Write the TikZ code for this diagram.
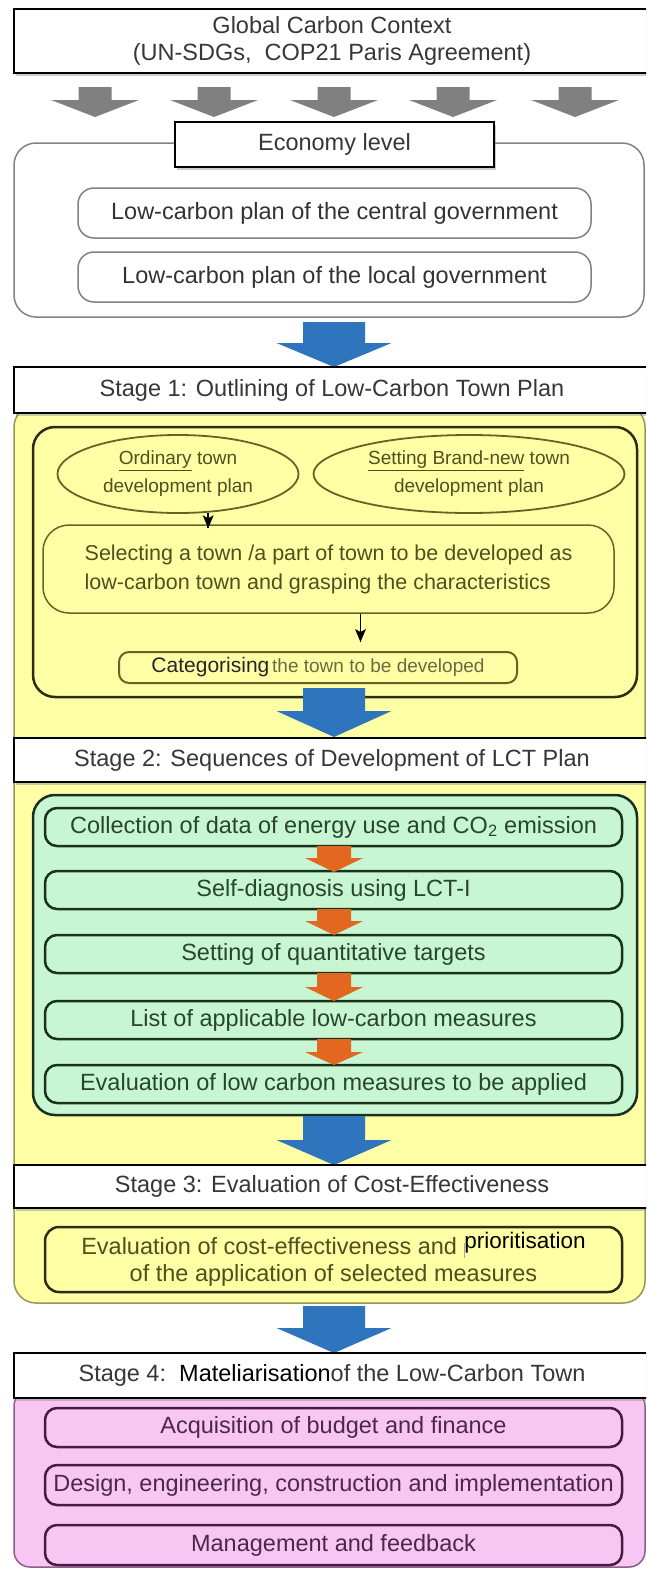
\documentclass[tikz,border=0pt]{standalone}
\usepackage{fontspec}
\setmainfont{Liberation Sans}
\usetikzlibrary{shapes.geometric,shadows,calc}

\definecolor{paleyellow}{RGB}{255,255,165}
\definecolor{palegreen}{RGB}{200,245,210}
\definecolor{palepink}{RGB}{248,198,243}
\definecolor{flowblue}{RGB}{46,117,190}
\definecolor{floworange}{RGB}{226,104,32}
\definecolor{flowgrey}{RGB}{128,128,128}
\definecolor{olivetext}{RGB}{80,80,30}
\definecolor{oliveline}{RGB}{100,100,40}
\definecolor{olivedark}{RGB}{45,45,20}
\definecolor{yellowedge}{RGB}{150,150,85}
\definecolor{greentext}{RGB}{40,70,45}
\definecolor{greenline}{RGB}{25,50,30}
\definecolor{pinktext}{RGB}{75,40,75}
\definecolor{pinkline}{RGB}{70,25,70}
\definecolor{pinkedge}{RGB}{140,95,140}
\definecolor{headtext}{RGB}{55,55,55}
\definecolor{econline}{RGB}{130,130,130}

\newcommand\fs[2]{\fontsize{#1}{#2}\selectfont}

% downward block arrow: x, y top, y head start, y tip, shaft half width, head half width, fill
\newcommand\blockdown[7]{%
  \fill[#7] ({#1-#5},#2) -- ({#1+#5},#2) -- ({#1+#5},#3) -- ({#1+#6},#3)
    -- (#1,#4) -- ({#1-#6},#3) -- ({#1-#5},#3) -- cycle;}

% small downward connector ending in a filled head at the named tip
\newcommand\smalldown[2]{%
  \draw[line width=1.5pt] (#1) -- (#2);
  \fill (#2) -- ++(-5.5,-13) -- ++(5.5,3) -- ++(5.5,-3) -- cycle;}

\tikzset{
  header/.style={draw=black, line width=2.2pt, fill=white, minimum width=636,
    minimum height=#1, inner sep=0pt, font=\fs{23.5}{27}, text=headtext,
    drop shadow={shadow xshift=1.5pt, shadow yshift=-2.5pt, opacity=0.4}},
  plainbox/.style={draw=econline, line width=1.5pt, fill=white, rounded corners=16,
    minimum width=513, minimum height=50, inner sep=0pt, font=\fs{23.5}{27}, text=black!80},
  greenitem/.style={draw=greenline, line width=2.5pt, fill=palegreen, rounded corners=12,
    minimum width=577, minimum height=38, inner sep=0pt, font=\fs{23.5}{27}, text=greentext},
  pinkitem/.style={draw=pinkline, line width=2.5pt, fill=palepink, rounded corners=12,
    minimum width=577, minimum height=39, inner sep=0pt, font=\fs{23.5}{27}, text=pinktext},
  oval/.style={ellipse, draw=oliveline, line width=1.8pt, fill=paleyellow, inner sep=0pt,
    align=center, font=\fs{19}{28}, text=olivetext},
}

\begin{document}
\begin{tikzpicture}[x=1pt, y=-1pt]
\clip (0,0) rectangle (646,1569);
\fill[white] (0,0) rectangle (646,1569);

% global context
\node[header=64, align=center] (glob) at (332,41)
  {Global Carbon Context\\(UN-SDGs,\ \ COP21 Paris Agreement)};
\foreach \ax in {95,214,334,453,575}
  {\blockdown{\ax}{87}{100}{117}{16.5}{44}{flowgrey}}

% economy level
\node[draw=econline, line width=1.5pt, rounded corners=22, minimum width=630,
  minimum height=174, inner sep=0pt] (econ) at (329,230) {};
\node[draw=black, line width=2.2pt, fill=white, minimum width=319, minimum height=45,
  inner sep=0pt, font=\fs{23.5}{27}, text=headtext,
  drop shadow={shadow xshift=1.5pt, shadow yshift=-2.5pt, opacity=0.4}]
  (econlbl) at (334.5,144.5) {Economy level};
\node[plainbox] (cgov) at (334.5,213) {Low-carbon plan of the central government};
\node[plainbox] (lgov) at (334.5,277) {Low-carbon plan of the local government};

\blockdown{334}{322}{343}{367}{31}{57.5}{flowblue}

% coloured zones behind the stages
\node[draw=yellowedge, line width=1.5pt, fill=paleyellow, rounded corners=22,
  minimum width=631, minimum height=898, inner sep=0pt] (yzone) at (329.5,854) {};
\node[draw=pinkedge, line width=1.5pt, fill=palepink, rounded corners=16,
  minimum width=631, minimum height=177, inner sep=0pt] (pzone) at (329.5,1478.5) {};

% stage 1
\node[header=46] (s1) at (332,390) {Stage 1: Outlining of Low-Carbon Town Plan};
\node[draw=olivedark, line width=2.5pt, fill=paleyellow, rounded corners=22,
  minimum width=604, minimum height=270, inner sep=0pt] (s1box) at (335,562) {};
\node[oval, minimum width=241, minimum height=78] (ord) at (178,474)
  {\underline{Ordinary} town\\development plan};
\node[oval, minimum width=311, minimum height=78] (new) at (469,474)
  {\underline{Setting Brand-new} town\\development plan};
\node[draw=oliveline, line width=1.5pt, fill=paleyellow, rounded corners=26,
  minimum width=571, minimum height=88, inner sep=0pt, align=left,
  font=\fs{21.5}{29}, text=olivetext] (sel) at (328.5,569)
  {Selecting a town /a part of town to be developed as\\low-carbon town and grasping the characteristics};
\node[draw=oliveline, line width=2pt, fill=paleyellow, rounded corners=10,
  minimum width=398, minimum height=31, inner sep=0pt] (cat) at (318,667.5)
  {{\fs{21}{24}\color{black!85}Categorising} {\fs{19}{24}\color{olivetext!85}the town to be developed}};
\coordinate (tipA) at ([yshift=-4pt]ord.-52 |- sel.north);
\coordinate (tipB) at ([xshift=32pt,yshift=9pt]sel.south |- cat.north);
\smalldown{ord.-52}{tipA}
\smalldown{[xshift=32pt]sel.south}{tipB}

\blockdown{334}{688}{711}{737}{31}{57.5}{flowblue}

% stage 2
\node[header=44] (s2) at (332,760) {Stage 2: Sequences of Development of LCT Plan};
\node[draw=greenline, line width=2.5pt, fill=palegreen, rounded corners=22,
  minimum width=604, minimum height=320, inner sep=0pt] (s2box) at (335,955) {};
\node[greenitem] (g1) at (333.5,827) {Collection of data of energy use and CO\textsubscript{2} emission};
\node[greenitem] (g2) at (333.5,890) {Self-diagnosis using LCT-I};
\node[greenitem] (g3) at (333.5,954) {Setting of quantitative targets};
\node[greenitem] (g4) at (333.5,1020) {List of applicable low-carbon measures};
\node[greenitem] (g5) at (333.5,1084) {Evaluation of low carbon measures to be applied};
\blockdown{334}{846}{858}{872}{17}{29}{floworange}
\blockdown{334}{909}{921}{935}{17}{29}{floworange}
\blockdown{334}{973}{987}{1001}{17}{29}{floworange}
\blockdown{334}{1039}{1052}{1065}{17}{29}{floworange}

\blockdown{334}{1116}{1140}{1165}{31}{57.5}{flowblue}

% stage 3
\node[header=43] (s3) at (332,1186.5) {Stage 3: Evaluation of Cost-Effectiveness};
\node[draw=olivedark, line width=2.5pt, fill=paleyellow, rounded corners=14,
  minimum width=577, minimum height=65, inner sep=0pt, align=center,
  font=\fs{23.5}{27}, text=olivetext] (s3box) at (333.5,1259.5)
  {Evaluation of cost-effectiveness and {\color{black!35}\rule[-3pt]{0.8pt}{15pt}}\raisebox{6pt}{\color{black}\fs{22.5}{24}prioritisation}\\of the application of selected measures};

\blockdown{334}{1306}{1328}{1353}{31}{57.5}{flowblue}

% stage 4
\node[header=45] (s4) at (332,1375.5)
  {Stage 4:\ \ {\color{black}Mateliarisation}of the Low-Carbon Town};
\node[pinkitem] (p1) at (333.5,1427.5) {Acquisition of budget and finance};
\node[pinkitem, minimum height=40] (p2) at (333.5,1485) {Design, engineering, construction and implementation};
\node[pinkitem, minimum height=40] (p3) at (333.5,1545) {Management and feedback};
\end{tikzpicture}
\end{document}
